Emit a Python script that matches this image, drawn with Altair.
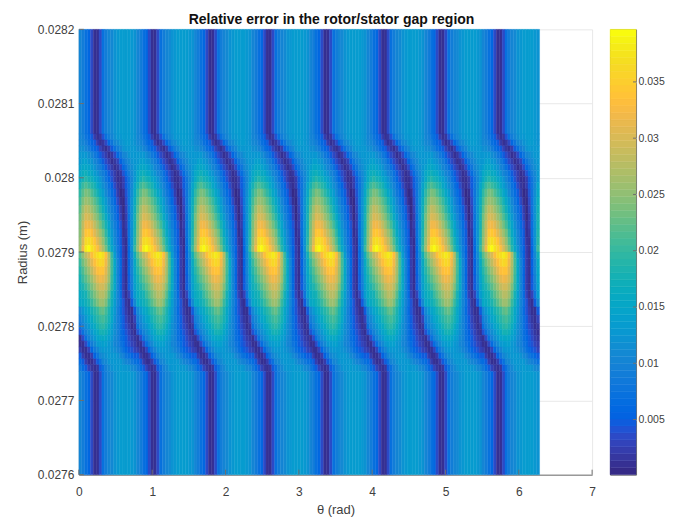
import altair as alt
import pandas as pd

alt.data_transformers.disable_max_rows()

TITLE = "Relative error in the rotor/stator gap region"
X_TICKS = [0, 1, 2, 3, 4, 5, 6, 7]
Y_TICKS = [0.0276, 0.0277, 0.0278, 0.0279, 0.028, 0.0281, 0.0282]
C_TICKS = [0.005, 0.01, 0.015, 0.02, 0.025, 0.03, 0.035]
C_DOMAIN = [0.0001, 0.03967]
PERIODS = 8
PERIOD = 0.7854

RADIUS_EDGES = [0.0282, 0.028059, 0.028051, 0.028043, 0.028035, 0.028026, 0.028018, 0.02801, 0.028002,
                0.027994, 0.027985, 0.027974, 0.027963, 0.027952, 0.027942, 0.027931, 0.02792, 0.027909,
                0.0279, 0.027891, 0.02788, 0.027869, 0.027858, 0.027848, 0.027837, 0.027826, 0.027815,
                0.027804, 0.027796, 0.027788, 0.02778, 0.027772, 0.027764, 0.027756, 0.027748, 0.027739, 0.0276]

# error (x 1e-3) across one rotor period, one row per radius band, top to bottom
ERROR_ROWS = [
    [10.5, 9, 7.5, 6, 3.5, 1, 1, 3.5, 7, 9, 10, 11, 12, 13, 13.5, 13.5, 13.5, 13.5, 13, 12],
    [10.5, 9.5, 8, 6.5, 4.5, 2.5, 1, 1.5, 4, 7, 9, 10.5, 11.5, 12.5, 13, 13.5, 13.5, 13.5, 13, 12],
    [11, 10.5, 9, 7.5, 6, 4.5, 2.5, 1, 1.5, 3.5, 6, 8, 10, 11, 12, 13, 13.5, 13.5, 13, 12],
    [11.5, 11.5, 10.5, 9, 7.5, 6, 4.5, 3, 1.5, 1, 2, 4.5, 7, 9, 10.5, 12, 12.5, 13, 13, 12.5],
    [12.5, 13, 12.5, 11.5, 10, 8.5, 7, 5, 3.5, 2, 1, 1.5, 3.5, 6, 8, 10, 11, 12, 13, 13],
    [13, 14, 14, 13, 12, 10.5, 9, 7, 5, 3.5, 2, 1, 1.5, 3, 5.5, 8, 9.5, 11, 12, 13],
    [14, 15, 15, 14.5, 13.5, 12, 10.5, 9, 7, 5, 3.5, 2, 1, 1.5, 3.5, 6, 8, 10, 11.5, 13],
    [15, 16.5, 17, 16, 15, 13.5, 12, 10.5, 9, 7, 5, 3.5, 2, 1, 1.5, 4, 6.5, 9, 11, 13],
    [16, 18, 19, 18, 17, 15.5, 14, 12, 10, 8, 6, 4, 2.5, 1.2, 1, 2.5, 5, 8, 10.5, 13],
    [18, 20, 21.5, 20.5, 19, 17.5, 15.5, 13.5, 11.5, 9.5, 7.5, 5.5, 3.5, 1.5, 0.8, 2, 4.5, 8, 11, 14.5],
    [19.5, 22, 24, 23, 21.5, 19.5, 17.5, 15.5, 13.5, 11, 8.5, 6.5, 4.5, 2.5, 0.7, 1, 4, 8, 11.5, 15.5],
    [21, 24, 26, 25, 24, 22, 20, 17.5, 15, 12.5, 10, 8, 6, 3.5, 1, 0.7, 3.5, 8, 12, 16.5],
    [22, 25.5, 28, 27.5, 26, 24, 22, 19.5, 17, 14, 11.5, 9, 7, 5, 2, 0.5, 3, 8, 12, 17],
    [23, 27, 30, 29.5, 28, 26, 24, 21.5, 19, 16, 13, 10.5, 8, 5.5, 3, 0.5, 2.5, 7.5, 12, 17.5],
    [24, 28, 32, 32, 30.5, 28.5, 26, 23.5, 21, 18, 14.5, 11.5, 9, 6.5, 4, 0.8, 2, 7, 12, 18],
    [24.5, 29, 34, 34.5, 33, 31, 28.5, 26, 23, 19.5, 16, 13, 10, 7, 4.5, 1, 1.5, 7, 12, 18.5],
    [25, 30, 36, 37, 35.5, 33.5, 31, 28, 25, 21.5, 17.5, 14, 11, 8, 5, 1.5, 1, 6.5, 12, 19],
    [26, 32, 38, 39.5, 37.5, 35.5, 33, 30, 27, 23, 19, 15.5, 12, 8.5, 5.5, 2, 0.8, 6, 12, 20],
    [22, 25, 28, 30, 33, 35.5, 37, 38, 37, 33, 27, 20, 13.5, 9, 5.5, 2, 0.8, 6, 11, 17],
    [20, 23, 26, 28, 30.5, 33, 35, 36, 35.5, 32, 27, 21, 15, 10, 6, 2, 0.8, 5.5, 10.5, 16],
    [19, 21.5, 24, 26, 28.5, 31, 33, 34, 33.5, 31, 26.5, 21, 15.5, 10.5, 6, 2, 0.9, 5.5, 10, 15],
    [18, 20, 22, 24, 26, 28.5, 30.5, 32, 31.5, 29.5, 25.5, 20.5, 15.5, 10.5, 6, 2, 0.9, 5, 9.5, 14.5],
    [17, 18.5, 20, 22, 24, 26, 28, 29.5, 29.5, 27.5, 24, 19.5, 15, 10.5, 6, 2.2, 0.8, 4.5, 9, 14],
    [16, 17, 18, 20, 22, 24, 26, 27.5, 27.5, 25.5, 22, 18, 14, 10.5, 6.5, 3, 0.8, 3, 8, 13.5],
    [15, 16, 17, 18.5, 20, 22, 24, 25.5, 25.5, 24, 20.5, 17, 13.5, 10.5, 7, 4, 1.5, 0.8, 5, 11],
    [11, 13, 14.5, 16, 17.5, 19, 20.5, 22, 22.5, 21, 18.5, 15.5, 12.5, 9.5, 6.5, 4, 2.5, 1.2, 1, 5],
    [9, 11, 13, 14.5, 16, 17.5, 19, 20.5, 21, 19.5, 17.5, 15, 12, 9.5, 7, 4.5, 3, 1.5, 0.8, 3],
    [7, 9.5, 11.5, 13, 14.5, 16, 17.5, 19, 19.5, 18.5, 16.5, 14, 11.5, 9.5, 7, 5, 3.5, 2.2, 1, 1.5],
    [4, 7, 9.5, 11.5, 13, 14.5, 16, 17.5, 18, 17, 15.5, 13.5, 11.5, 9.5, 7.5, 5.5, 4, 3, 1.8, 1],
    [1.2, 3.5, 7, 9.5, 11.5, 13, 14.5, 15.5, 16, 15.5, 14, 12.5, 11, 9.5, 7.5, 6, 4.5, 3.5, 2.5, 1.5],
    [1, 1, 3.5, 6.5, 9, 11, 12.5, 13.5, 14, 14, 13, 12, 10.5, 9.5, 8, 6.5, 5, 4, 3, 2],
    [2.5, 1, 1, 3, 6, 8.5, 10.5, 12, 13, 13, 12.5, 12, 11.5, 10.5, 9, 7.5, 6, 5, 4, 3],
    [4.5, 2.5, 1, 1, 2.5, 5.5, 8, 10, 11.5, 12, 12.5, 12.5, 12.5, 12, 11, 9.5, 8, 7, 6, 5],
    [6.5, 4.5, 2.5, 1, 1, 2, 4.5, 7.5, 10, 11, 12, 12.5, 13, 13, 12.5, 11.5, 10.5, 9.5, 8.5, 7.5],
    [8.5, 6.5, 4.5, 3, 1.5, 1, 1.5, 4.5, 7.5, 9.5, 11, 12, 13, 13, 13.5, 13, 12.5, 12, 11, 10],
    [10.5, 9, 7.5, 6, 3.5, 1, 1, 3.5, 7, 9, 10, 11, 12, 13, 13.5, 13.5, 13.5, 13.5, 13, 12],
]

PARULA = [
    (0.2081, 0.1663, 0.5292), (0.2116, 0.1898, 0.5777), (0.2123, 0.2138, 0.6270), (0.2081, 0.2386, 0.6771),
    (0.1959, 0.2645, 0.7279), (0.1707, 0.2919, 0.7792), (0.1253, 0.3242, 0.8303), (0.0591, 0.3598, 0.8683),
    (0.0117, 0.3875, 0.8820), (0.0060, 0.4086, 0.8828), (0.0165, 0.4266, 0.8786), (0.0329, 0.4430, 0.8720),
    (0.0498, 0.4586, 0.8641), (0.0629, 0.4737, 0.8554), (0.0723, 0.4887, 0.8467), (0.0779, 0.5040, 0.8384),
    (0.0793, 0.5200, 0.8312), (0.0749, 0.5375, 0.8263), (0.0641, 0.5570, 0.8240), (0.0488, 0.5772, 0.8228),
    (0.0343, 0.5966, 0.8199), (0.0265, 0.6137, 0.8135), (0.0239, 0.6287, 0.8038), (0.0231, 0.6418, 0.7913),
    (0.0228, 0.6535, 0.7768), (0.0267, 0.6642, 0.7607), (0.0384, 0.6743, 0.7436), (0.0590, 0.6838, 0.7254),
    (0.0843, 0.6928, 0.7062), (0.1133, 0.7015, 0.6859), (0.1453, 0.7098, 0.6646), (0.1801, 0.7177, 0.6424),
    (0.2178, 0.7250, 0.6193), (0.2586, 0.7317, 0.5954), (0.3022, 0.7376, 0.5712), (0.3482, 0.7424, 0.5473),
    (0.3953, 0.7459, 0.5244), (0.4420, 0.7481, 0.5033), (0.4871, 0.7491, 0.4840), (0.5300, 0.7491, 0.4661),
    (0.5709, 0.7485, 0.4494), (0.6099, 0.7473, 0.4337), (0.6473, 0.7456, 0.4188), (0.6834, 0.7435, 0.4044),
    (0.7184, 0.7411, 0.3905), (0.7525, 0.7384, 0.3768), (0.7858, 0.7356, 0.3633), (0.8185, 0.7327, 0.3498),
    (0.8507, 0.7299, 0.3360), (0.8824, 0.7274, 0.3217), (0.9139, 0.7258, 0.3063), (0.9450, 0.7261, 0.2886),
    (0.9739, 0.7314, 0.2666), (0.9938, 0.7455, 0.2403), (0.9990, 0.7653, 0.2164), (0.9955, 0.7861, 0.1967),
    (0.9880, 0.8066, 0.1794), (0.9789, 0.8271, 0.1633), (0.9697, 0.8481, 0.1475), (0.9626, 0.8705, 0.1309),
    (0.9589, 0.8949, 0.1132), (0.9598, 0.9218, 0.0948), (0.9661, 0.9514, 0.0755), (0.9763, 0.9831, 0.0538),
]
HEX = ["#%02x%02x%02x" % tuple(round(c * 255) for c in rgb) for rgb in PARULA]

FONT = "Liberation Sans"
TEXT = "#404040"
LINE = "#6e6e6e"
GRID = "#e8e8e8"
PW, PH = 514, 446

cells = []
for r, row in enumerate(ERROR_ROWS):
    for p in range(PERIODS):
        for c, v in enumerate(row):
            cells.append({
                "t0": (p + c / len(row)) * PERIOD,
                "t1": (p + (c + 1) / len(row)) * PERIOD,
                "r0": RADIUS_EDGES[r],
                "r1": RADIUS_EDGES[r + 1],
                "v": v / 1000,
            })
cells = pd.DataFrame(cells)

cscale = alt.Scale(type="quantize", domain=C_DOMAIN, range=HEX)
xscale = alt.Scale(domain=[0, 7], nice=False)
yscale = alt.Scale(domain=[0.0276, 0.0282], nice=False, zero=False)
cbscale = alt.Scale(domain=C_DOMAIN, nice=False, zero=False)

heat = alt.Chart(cells).mark_rect(strokeWidth=0.4).encode(
    x=alt.X("t0:Q", scale=xscale, axis=alt.Axis(
        values=X_TICKS, title="θ (rad)", tickSize=0, grid=True, gridColor=GRID, labelPadding=12,
        domainColor=LINE, titlePadding=6, format="d", labelFlush=False)),
    x2="t1:Q",
    y=alt.Y("r0:Q", scale=yscale, axis=alt.Axis(
        values=Y_TICKS, title="Radius (m)", tickSize=0, grid=True, gridColor=GRID, labelPadding=5,
        domainColor=LINE, titlePadding=8, format=".4~f", labelFlush=False)),
    y2="r1:Q",
    color=alt.Color("v:Q", scale=cscale, legend=None),
    stroke=alt.Color("v:Q", scale=cscale, legend=None),
)

xticks = alt.Chart(pd.DataFrame({"t": X_TICKS})).mark_rule(color=LINE).encode(
    x=alt.X("t:Q", scale=xscale), y=alt.value(PH), y2=alt.value(PH - 5))
yticks = alt.Chart(pd.DataFrame({"t": Y_TICKS})).mark_rule(color=LINE).encode(
    y=alt.Y("t:Q", scale=yscale), x=alt.value(0), x2=alt.value(5))

main = alt.layer(heat, xticks, yticks).properties(
    width=PW, height=PH,
    title=alt.TitleParams(TITLE, anchor="middle", fontSize=14, fontWeight="bold", color="#111111", font=FONT,
                          offset=-4, dx=-4),
)

n = len(HEX)
step = (C_DOMAIN[1] - C_DOMAIN[0]) / n
levels = pd.DataFrame({
    "lo": [C_DOMAIN[0] + i * step for i in range(n)],
    "hi": [C_DOMAIN[0] + (i + 1) * step for i in range(n)],
    "mid": [C_DOMAIN[0] + (i + 0.5) * step for i in range(n)],
})
bar = alt.Chart(levels).mark_rect(strokeWidth=0.4).encode(
    x=alt.value(0), x2=alt.value(26),
    y=alt.Y("lo:Q", scale=cbscale, axis=alt.Axis(
        orient="right", values=C_TICKS, title=None, tickSize=0, domain=False, labelPadding=2, format=".3~f",
        labelFontSize=10.5)),
    y2="hi:Q",
    color=alt.Color("mid:Q", scale=cscale, legend=None),
    stroke=alt.Color("mid:Q", scale=cscale, legend=None),
)
barticks = alt.Chart(pd.DataFrame({"t": C_TICKS})).mark_rule(color=LINE).encode(
    y=alt.Y("t:Q", scale=cbscale), x=alt.value(23), x2=alt.value(26))
colorbar = alt.layer(bar, barticks).properties(width=26, height=PH, view=alt.ViewConfig(stroke=LINE, strokeWidth=1))

chart = alt.hconcat(main, colorbar, spacing=13, padding={"left": 8, "top": 5, "right": 0, "bottom": 0}).resolve_scale(
    color="independent", y="independent"
).configure_view(strokeWidth=0).configure_axis(
    labelFont=FONT, titleFont=FONT, labelFontSize=12, titleFontSize=13, labelColor=TEXT, titleColor=TEXT,
    titleFontWeight="normal",
)

chart.save("out.html", embed_options={"renderer": "svg", "actions": False})
